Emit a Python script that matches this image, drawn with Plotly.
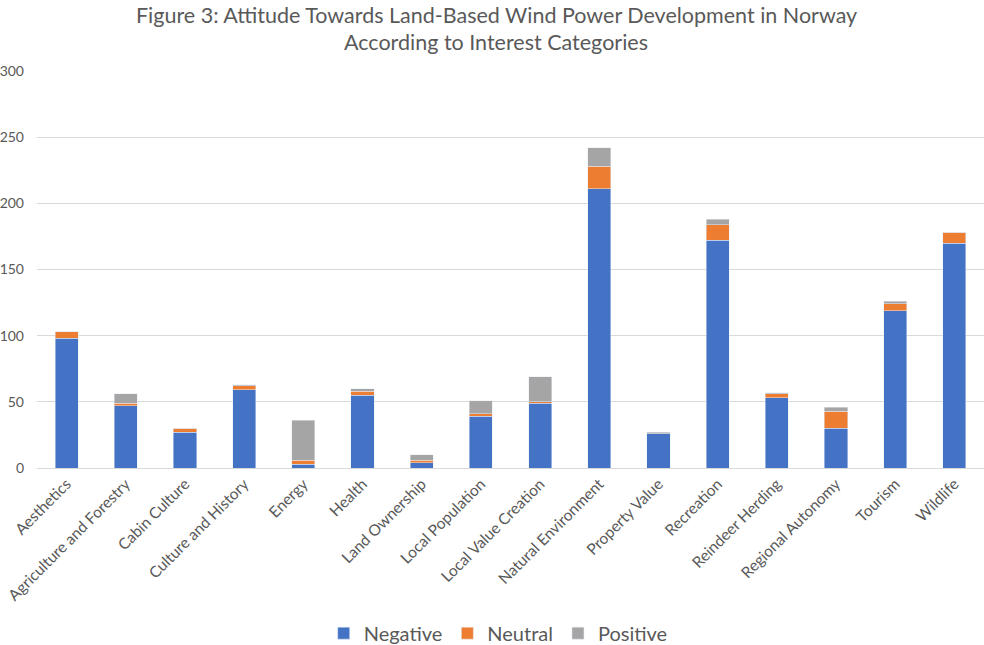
import plotly.graph_objects as go

categories = ["Aesthetics", "Agriculture and Forestry", "Cabin Culture", "Culture and History",
              "Energy", "Health", "Land Ownership", "Local Population", "Local Value Creation",
              "Natural Environment", "Property Value", "Recreation", "Reindeer Herding",
              "Regional Autonomy", "Tourism", "Wildlife"]
negative = [98, 47, 27, 59, 3, 55, 4, 39, 49, 211, 26, 172, 53, 30, 119, 170]
neutral = [5, 2, 3, 3, 3, 3, 2, 2, 1, 17, 0, 12, 3, 13, 5, 8]
positive = [0, 7, 0, 1, 30, 2, 4, 10, 19, 14, 1, 4, 1, 3, 2, 0]
y_ticks = [0, 50, 100, 150, 200, 250, 300]
title_lines = ["Figure 3: Attitude Towards Land-Based Wind Power Development in Norway",
               "According to Interest Categories"]

FONT = "Lato, 'Open Sans', sans-serif"
TXT = "#595959"

fig = go.Figure()
fig.add_bar(x=categories, y=negative, name="Negative", marker_color="#4472C4")
fig.add_bar(x=categories, y=neutral, name="Neutral", marker_color="#ED7D31")
fig.add_bar(x=categories, y=positive, name="Positive", marker_color="#A5A5A5")

fig.update_layout(
    barmode="stack",
    bargap=0.61,
    width=984, height=645,
    margin=dict(l=37, r=0, t=71, b=177, autoexpand=False),
    paper_bgcolor="white", plot_bgcolor="white",
    font=dict(family=FONT, color=TXT),
    legend=dict(orientation="h", x=0.487, xanchor="center", y=-0.416, yanchor="middle",
                font=dict(size=20, color=TXT), traceorder="normal", itemwidth=30),
    showlegend=True,
)
for i, line in enumerate(title_lines):
    fig.add_annotation(text=line, xref="paper", yref="paper", x=0.485, xanchor="center",
                       y=1 + (71 - (15 + 27 * i)) / 397, yanchor="middle", showarrow=False,
                       font=dict(size=21.5, color=TXT, family=FONT))
fig.update_yaxes(range=[0, 300], tickvals=y_ticks, gridcolor="#D9D9D9", gridwidth=1,
                 zeroline=False, showline=False, tickfont=dict(size=14, color=TXT),
                 ticks="", ticklen=0, automargin=False, ticklabelstandoff=12)
fig.update_xaxes(tickangle=-45, tickfont=dict(size=15.5, color=TXT), showline=True,
                 linecolor="#D9D9D9", linewidth=1, ticks="", automargin=False)

fig.write_html("out.html")
